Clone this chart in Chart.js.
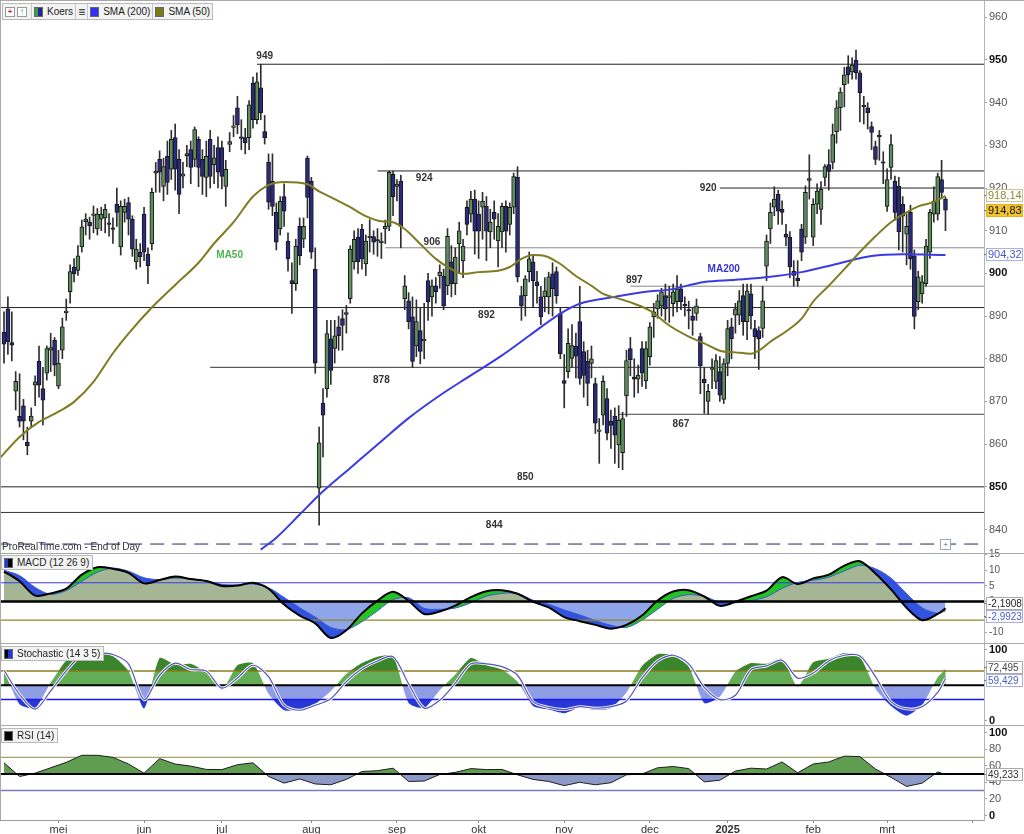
<!DOCTYPE html>
<html>
<head>
<meta charset="utf-8">
<script src="https://cdn.jsdelivr.net/npm/chart.js@4.4.1/dist/chart.umd.min.js"></script>
<style>
  body { margin: 0; background: #fff; }
  #wrap { position: relative; width: 1024px; height: 834px; overflow: hidden; background: #fff;
          font-family: "Liberation Sans", Arial, sans-serif; }
  .pane { position: absolute; left: 0; width: 1024px; }
  .sep { position: absolute; left: 0; width: 1024px; height: 1px; background: #a8a8a8; }
  .box { position: absolute; display: flex; align-items: center; height: 13px; border: 1px solid #b9b9b9;
         background: #f3f3f3; font-size: 10px; color: #222; white-space: nowrap; }
  .cell { display: flex; align-items: center; height: 100%; padding: 0 2px; border-right: 1px solid #c6c6c6; }
  .cell:last-child { border-right: none; }
  .sw { display: inline-block; width: 7px; height: 8px; margin-right: 4px; border: 1px solid #666; }
  .btn { display: inline-block; width: 8px; height: 8px; margin-right: 2px; border: 1px solid #999; background: #fff;
         font-size: 8px; line-height: 8px; text-align: center; font-weight: bold; }
  #prt { position: absolute; left: 2px; top: 541px; font-size: 10px; color: #333; }
  #icon { position: absolute; left: 940px; top: 539px; width: 9px; height: 9px; border: 1px solid #9aa; font-size: 8px;
          line-height: 9px; text-align: center; color: #667; background: #fff; }
</style>
</head>
<body>
<div id="wrap">
  <div class="pane" style="top:0;height:553px"><canvas id="main"></canvas></div>
  <div class="pane" style="top:548px;height:96px"><canvas id="macd"></canvas></div>
  <div class="pane" style="top:644px;height:81px"><canvas id="stoch"></canvas></div>
  <div class="pane" style="top:725px;height:109px"><canvas id="rsi"></canvas></div>

  <div class="sep" style="top:0"></div>
  <div class="sep" style="top:553px"></div>
  <div class="sep" style="top:643px"></div>
  <div class="sep" style="top:725px"></div>
  <div style="position:absolute;left:0;top:0;width:1px;height:820px;background:#a8a8a8"></div>

  <div class="box" style="left:2px;top:3px;height:15px">
    <span class="cell"><span class="btn" style="color:#d22">+</span><span class="btn" style="color:#2a2">&#8593;</span></span>
    <span class="cell"><span class="sw" style="background:linear-gradient(90deg,#3f9f3f 50%,#24249c 50%)"></span>Koers</span>
    <span class="cell" style="font-size:12px">&#8801;</span>
    <span class="cell"><span class="sw" style="background:#3030f0"></span>SMA (200)</span>
    <span class="cell"><span class="sw" style="background:#7a7a12"></span>SMA (50)</span>
  </div>
  <div id="prt">ProRealTime.com - End of Day</div>
  <div id="icon">+</div>
  <div class="box" style="left:1px;top:555px;padding-left:2px;padding-right:3px"><span class="sw" style="background:linear-gradient(90deg,#2236e0 50%,#000 50%)"></span>MACD (12 26 9)</div>
  <div class="box" style="left:1px;top:646px;padding-left:2px;padding-right:3px"><span class="sw" style="background:linear-gradient(90deg,#000 40%,#2236e0 40%)"></span>Stochastic (14 3 5)</div>
  <div class="box" style="left:1px;top:728px;padding-left:2px;padding-right:3px"><span class="sw" style="background:#000"></span>RSI (14)</div>
</div>

<script>
// daily candles, one per trading day (index 0 = first bar on the left)
const opens = [
  886.2,891.7,883.8,872.4,866.5,869,860.4,865.4,873.8,879.4,
  873,876.6,882,884.3,873.6,882,890.8,895.7,901.5,900.7,
  906.2,912.1,912,913.6,910.4,912.7,913,911.8,910.6,916.2,
  906.2,914.3,916.6,912.7,902.7,905,913.9,904.5,906.9,923.5,
  926.7,920.4,927.4,924.4,931.8,926.7,922.8,927.6,929,926.7,
  931.4,926.7,922.5,931.4,925.5,929.5,929.5,920.4,930.2,934.2,
  938.8,932,931.8,931.8,944.6,936,943.5,933.2,926,921.6,
  914.3,910.4,918,907.6,898.3,897.6,911,908,927,921.6,
  901,849.7,869.6,873,884.7,882.4,887.5,889.4,890.4,894.1,
  902.7,908.5,910.4,902.2,908.4,908.6,907.8,907.2,910.4,911,
  923.2,920.4,921.6,894.1,893.6,889.8,883,886.6,884.2,898.3,
  894.5,897.1,899.4,899.4,897.1,902.7,897.6,906.9,902.9,915.5,
  913.9,917.4,913.9,915.5,915.7,909.7,914.3,907.6,909.7,915.7,
  911.5,915.5,922.5,894.8,894.8,900.4,902.7,898,894.5,894.5,
  894.5,899.9,900.4,890.6,874.9,877,880.1,882.9,888.7,881.7,
  879.4,878.9,874.2,863,866.8,870.7,865.4,866.6,859.8,858,
  871.3,882.4,875.7,875.2,882.4,874.8,880.5,889.8,891.7,892.4,
  894.8,894.4,892.9,893.4,896.4,892.6,891.5,890,890.6,885.2,
  875.2,870,877.5,874.7,877,870.5,878.9,887.5,890.2,890.2,
  894.8,888.7,895.2,887.1,886.6,887.1,901.7,910.4,915.5,918.5,
  915,909.2,908.5,900.5,898.9,910.4,908.5,921.8,908.5,916.2,
  915,922.5,925.5,926,933.2,938.8,944.2,948.4,947.2,950,
  947,939.2,938.8,934.4,929.7,932.2,926,915.7,924.8,921.6,
  920.4,916.2,909.2,914.3,904.1,893.4,895.2,897.6,905,913.9,
  913.9,922,917.4
];
const highs = [
  891,894.5,891,877,876.5,870.5,864,868.5,876,883,
  878,883,886,885,882,889.5,894,902,903.5,906.5,
  912.5,914,913.2,915.8,915.2,915.5,916.2,914,913,920,
  917,917.4,917.8,913.5,908,907,915.5,906,920,926,
  928.7,927,931,933.5,935,929,926,930,931,934.3,
  932,929,931,933.5,930,932,931,926.5,933,937,
  941.5,936,934,940.5,946,947,949,937,928,928,
  916.5,918,921,909.5,902.5,908,913,913,927.5,922.5,
  906,864,873,889,889,889,890,891.5,892.5,906.5,
  910,910.5,911.5,909,912.6,910,910.5,909.5,912.5,924,
  924,922,923,899.5,895.5,894.5,893.8,892,893,900,
  898.5,899,902,901,910.5,906.5,906,912,908,917,
  919.2,919.5,917,919,918,915,917,914,916.5,917,
  916.5,923.5,925,897,899.5,905,904,900.5,897,899,
  900.3,902.5,901.5,892,881,887,888,886,897,884,
  882,883,875.5,866,876,873,868,868.5,869,867.5,
  882,885,880,878.5,884,884,888.5,893,895,896.5,
  897.5,897,897.5,899.5,897.5,894.5,893.5,892,894,886,
  878,874,880,881,880.5,880,889,889.5,893,896,
  897.5,897.5,897.5,889,887.5,897,909,916.5,920.3,919.5,
  917,911.5,909.8,903,903,911.5,920.5,927.8,917.5,921,
  921.5,925.5,929,935,940.5,943.5,948.3,951,950.5,952.3,
  947.5,941.5,940,935.5,931,933.5,928.5,924.5,932.5,922.8,
  922.5,918,914,916,905.5,900.5,899.5,908,915,920.3,
  923.5,926.5,917.8
];
const lows = [
  879,881,879.5,868,864,861,857.5,864,869,871,
  864.5,875,877,876,873,880,889,893,898,899.5,
  905,909,908,909.5,909,910,909.5,908.7,907,911,
  904.3,912,909,904,901,901.5,903,897.6,905.5,919,
  919,917,918.5,922,919.5,914,920,925,921,925,
  920.3,918.5,918,920,921,920,919.8,915.7,928.5,932,
  932.7,929,928,929,934,935,936,930.3,915,913.5,
  905.5,909,911,900.5,890.6,896,902,906,913,903.5,
  876.6,841,857,871,874,879,882,882,886,893,
  901,900,901,899.5,905,904.5,904,903.5,907,910,
  913.5,917,906,891.5,887,878,880.5,878.8,880,889,
  890,893,896.5,891.5,895,894.5,895,900,899,909,
  912,904.5,903.5,908,903,906,908,901.5,906,905,
  909,914,898,889,890,898,892,893,888,891,
  890.5,890,893,880,868.5,875.5,878,875.5,874,871,
  869,875.5,862.5,855.5,864.5,861,859,855.5,854.5,854,
  866.5,876,871,872,873.5,873,878.5,885,889.5,890,
  889,888.5,890,891,891.5,890,887,885.5,889,871.8,
  867.2,867,873,873,870,869.5,876,880,886,888,
  885.5,884.5,887,880,877.5,885,898.3,907,913.5,911.5,
  911.5,906.5,899,897,897,903,907,917.4,906.5,914,
  911.5,920.5,919.5,924.5,930.5,933.5,939,944.5,945.5,945.5,
  935.5,935,933.8,929,925.5,926.5,921,914.5,922,912.5,
  905.5,905,902,901,887,891.5,893,897,903.5,912,
  912.5,917.5,910
];
const closes = [
  883.4,884,883.2,874.7,865.4,865.4,859.6,866.6,874.6,873.8,
  870.3,882.4,882.6,878.5,879,887.5,891.2,900.4,899.9,904.1,
  910.9,912.7,911.2,913.9,913.9,913.9,915,911.5,910.3,914.3,
  915.7,915.7,912.7,905.7,905.7,903.9,905,901.8,919,924,
  923.7,925,921.3,931.4,924.4,918.5,923.3,928.1,924.8,933.7,
  924.8,922.7,927.4,922.7,927.1,923.7,922.7,924.4,930.9,934.6,
  934.8,931.6,930.6,939.5,936,944.9,937.6,931.8,916.7,915.7,
  907.3,916.9,914.6,903.4,897.6,906.4,904.1,911,917.8,905,
  879,860.3,866.8,885.9,877.3,885.4,885.4,887.8,890.8,905.7,
  908,902.7,903.4,907.6,908.6,907.3,907.6,907.4,911,923.7,
  918,920.9,911,897.1,888.7,879.4,888.7,881.7,884.4,893.3,
  897.1,895.7,900.3,892.4,908.7,897.6,903.8,910,906.4,911.5,
  917.4,909.9,909.9,916.9,909.9,912,912.7,911,915.7,909.9,
  915.5,922.7,899.2,892.4,898.7,903.4,898.3,897.1,889.8,895.9,
  899.2,896.4,894.8,881.2,874.2,883.6,883.1,880.6,875.4,876.1,
  874.2,880,864.9,863.2,874.7,862.6,864.4,862.1,865.6,866,
  879.6,879.8,875.2,876.2,876.6,882.4,887.5,891,893.6,895.7,
  891.7,894.6,895.7,896.4,893.4,892.4,891.2,889,892.4,878.4,
  874.4,872.4,877.9,879.6,871.5,878.9,887.1,884.7,891.7,893.6,
  888.7,895.9,890.1,885.2,884.7,893.6,907.6,914.3,917.4,914.6,
  914.3,908.5,901.5,899.5,898.3,905,919,922.2,916.2,919.3,
  919.7,925,923.9,932.5,938.8,942.5,946.5,946.5,948.8,947,
  942.3,939,937.6,933,926.7,932,925.8,922,930.2,914.3,
  909.7,913.4,911,903.4,889.9,899.2,898,906.4,914.3,916.9,
  922.7,919,914.83
];

// moving averages (bar index, value)
const sma50Idx = [-1,4,9,14,18,23,28,32,38,44,50,54,59,64,68,72,78,81,85,89,93,97,100,103,107,111,115,118,122,127,
  130,133,136,139,143,147,151,154,158,162,166,171,176,180,184,188,192,194,197,201,205,208,212,216,220,224,228,232,235,239,242];
const sma50Vals = [856.8,861.7,865.2,867.6,869.9,874.6,881.3,885.9,892,897.3,902.5,907,912,918,920.7,921.4,920.9,919.2,917.4,915.5,
  913.4,912.2,912,910.4,906.9,903.4,901,899.9,900.3,900.6,901.5,903.4,904.3,904.1,902.2,899.4,897.1,895.2,894.1,892.9,
  891.3,887.8,885.2,883.6,881.9,881.5,881.2,881.9,884,886.4,889.4,893.4,897.1,901,905,908.7,912,914.3,915.7,916.7,918.14];
const sma200Idx = [66,70,76,81,89,97,104,112,120,128,135,143,148,157,165,171,180,188,197,205,214,223,231,242];
const sma200Vals = [835.3,838.1,843.5,848.1,854.4,860.7,866.1,871.4,876.1,880.8,885.4,890.6,892.9,894.5,895.7,896.2,
  898,898.5,899.2,900.3,902.2,904.1,904.5,904.32];

// support / resistance levels and the bar where each line starts
const levelValues = [949, 924, 920, 906, 897, 892, 878, 867, 850, 844];
const levelStart = [65, 96, 184, 98, 161, -2, 53, 158, -2, -2];
const levelLabelAt = [67, 108, 181, 110, 162, 124, 97, 174, 134, 126];
const sessionLine = 836.6;

// indicator panels, read every 4th bar
const gridIdx = [0,4,8,12,16,20,24,28,32,36,40,44,48,52,56,60,64,68,72,76,80,84,88,92,96,100,104,108,112,116,
  120,124,128,132,136,140,144,148,152,156,160,164,168,172,176,180,184,188,192,196,200,204,208,212,216,220,224,228,232,236,240,242];
const macdVals = [9.6,6.5,1.9,2.6,4.1,8.6,11.0,10.5,9.2,5.8,6.9,8.0,7.2,6.6,5.0,5.1,6.0,4.1,-1.0,-4.5,
  -7.0,-11.7,-9.2,-3.8,0.3,3.1,0.2,-4.0,-3.2,-1.3,1.4,3.3,3.6,2.5,-0.1,-1.9,-5.0,-6.3,-7.5,-8.7,
  -7.5,-4.5,0.3,3.2,3.6,1.6,-1.4,-0.1,1.7,3.5,7.8,5.6,7.4,8.6,11.5,12.9,9.0,3.9,-2.0,-6.0,-4.0,-2.1908];
const signalVals = [10.0,8.3,4.5,2.3,3.5,6.5,9.4,10.7,9.7,7.6,7.0,7.5,7.2,6.6,5.5,5.3,5.6,4.4,1.3,-2.0,
  -5.0,-8.3,-9.0,-6.5,-3.0,0.6,1.2,-2.2,-2.5,-2.1,-0.4,1.7,2.6,2.6,0.4,-0.9,-2.7,-4.3,-6.1,-7.6,
  -8.3,-6.0,-2.5,1.0,2.2,1.6,-0.2,-0.4,0.3,1.5,4.2,6.1,6.8,7.8,9.8,11.6,10.5,7.5,2.5,-2.0,-3.8,-2.9923];
const stochK = [70.5,23.5,18,53.5,84.5,96,97,91,70,17.5,88,79,80,68,43.4,78,81,38,15,16.5,
  24,42,66,81,90,91,25,18,43,65,88,78,72,55,21,16,11,19,15.4,18,
  40,77,93.5,91.5,76,25,34,69,81,80,87,48,82,87,95,90,45,21,7.5,22.4,61,72.495];
const stochD = [71,37,16.5,42,70,92.5,95,93,80,30,64,81,72,70,46,60,78,62,22,15,
  22,31,55,73,84,90,52,18,29,53,80,80,76,64,27,19,16,20,17.8,20,
  28,60,84,92,80,47,30,36,72,77,85,60,67,84,92,91,62,27,17,20,40,59.429];
const rsiVals = [63.5,47,51,57.5,64,72.5,72.5,70,62,51,68.5,62,59.5,55.5,55.3,61.2,63.5,47,39,44,
  38,37,43.5,53,54,57,41,41.5,49.4,52,56.5,55.3,55.5,49,43.5,41,36,40,37,39.5,
  49,50,57.5,59,56.5,40.5,42.5,53.5,57,56,64.5,51.5,62,64.5,71.5,71,56,46,35,39,52.5,49.233];

// date axis
const monthIdx = [14, 36, 56, 79, 101, 122, 144, 166, 186, 208, 227, 249];
const monthLabels = ['mei', 'jun', 'jul', 'aug', 'sep', 'okt', 'nov', 'dec', '2025', 'feb', 'mrt', ''];

// ---------------------------------------------------------------
const FONT = '"Liberation Sans", Arial, sans-serif';
Chart.defaults.font.family = FONT;
Chart.defaults.animation = false;
Chart.defaults.events = [];
Chart.defaults.plugins.legend.display = false;
Chart.defaults.plugins.tooltip.enabled = false;

const X_MIN = -1.03, X_MAX = 251.9, X_END = 253;
const last = closes.length - 1;
const fmt = (v, d) => v.toFixed(d).replace('.', ',');
const pts = (xs, ys) => xs.map((x, i) => ({ x, y: ys[i] }));
const tickVal = c => (c && c.tick ? c.tick.value : 1);
// drop the label overhang padding so the plot areas line up exactly with the panes
const noPad = s => { s.paddingTop = 0; s.paddingBottom = 0; s.paddingLeft = 0; s.paddingRight = 0; };
const hline = (v, from, color, width, order, dash) => ({
  type: 'line', data: [{ x: from, y: v }, { x: X_END, y: v }], borderColor: color, borderWidth: width,
  borderDash: dash || [], pointRadius: 0, fill: false, order
});
const hiddenX = { type: 'linear', min: X_MIN, max: X_MAX, offset: false, display: false, afterFit: noPad };
const rightAxis = (min, max, ticks, extra) => Object.assign({
  position: 'right', min, max,
  afterFit: s => { s.width = 40; noPad(s); },
  border: { color: '#b4b4b4' },
  grid: { drawOnChartArea: false, tickLength: 3, color: '#a0a0a0' },
  ticks: Object.assign({ padding: 2, includeBounds: false, color: '#555', font: { size: 11 } }, ticks)
}, extra || {});

// value tags on the right axis
const badgePlugin = {
  id: 'badges',
  afterDraw(chart, args, opts) {
    const items = opts && opts.items;
    if (!items || !items.length) return;
    const { ctx, chartArea } = chart;
    const y = chart.scales.y;
    const pos = items.map(it => y.getPixelForValue(it.value));
    for (let i = 1; i < pos.length; i++) {
      if (pos[i] - pos[i - 1] < 13) {
        const m = (pos[i] + pos[i - 1]) / 2;
        pos[i - 1] = m - 6.5;
        pos[i] = m + 6.5;
      }
    }
    ctx.save();
    ctx.font = (opts.size || 11) + 'px ' + FONT;
    ctx.textBaseline = 'middle';
    items.forEach((it, i) => {
      const left = chartArea.right + 2, top = Math.round(pos[i] - 6.5);
      ctx.fillStyle = it.bg;
      ctx.fillRect(left, top, 37, 13);
      ctx.strokeStyle = it.border;
      ctx.lineWidth = 1;
      ctx.strokeRect(left + 0.5, top + 0.5, 36, 12);
      ctx.beginPath();
      ctx.strokeStyle = '#777';
      ctx.moveTo(chartArea.right, top + 6.5);
      ctx.lineTo(left, top + 6.5);
      ctx.stroke();
      ctx.fillStyle = it.color;
      ctx.fillText(it.text, left + 2, top + 7);
    });
    ctx.restore();
  }
};
Chart.register(badgePlugin);

// level numbers and MA captions on the price pane
const levelLabelDy = [-8, 7, 0, -6, -6, 8, 13, 10, -10, 13];
const maLabels = [
  { text: 'MA50', at: 58, value: 904.2, color: '#4db34d' },
  { text: 'MA200', at: 185, value: 901, color: '#3434d0' }
];
const levelLabelPlugin = {
  id: 'levelLabels',
  afterDatasetsDraw(chart) {
    const { ctx, scales: { x, y } } = chart;
    ctx.save();
    ctx.textAlign = 'center';
    ctx.textBaseline = 'middle';
    ctx.font = 'bold 10px ' + FONT;
    ctx.fillStyle = '#333';
    levelValues.forEach((v, i) => {
      ctx.fillText(String(v), x.getPixelForValue(levelLabelAt[i]), y.getPixelForValue(v) + levelLabelDy[i]);
    });
    maLabels.forEach(m => {
      ctx.fillStyle = m.color;
      ctx.fillText(m.text, x.getPixelForValue(m.at), y.getPixelForValue(m.value));
    });
    ctx.restore();
  }
};

// stochastic: area between %K (dataset 0) and the 50 line, coloured per band
const stochBands = [
  { lo: 70, hi: 1000, color: '#3b862d' },
  { lo: 50, hi: 70, color: '#63ad56' },
  { lo: 30, hi: 50, color: '#8e9de4' },
  { lo: -1000, hi: 30, color: '#2838d6' }
];
const stochFillPlugin = {
  id: 'stochFill',
  beforeDatasetsDraw(chart) {
    const { ctx, chartArea: a, scales: { y } } = chart;
    const line = chart.getDatasetMeta(0).dataset;
    const p = line.points;
    if (!p || !p.length) return;
    line.updateControlPoints(a, 'x');
    const base = y.getPixelForValue(50);
    stochBands.forEach(b => {
      const top = Math.max(a.top, y.getPixelForValue(b.hi));
      const bottom = Math.min(a.bottom, y.getPixelForValue(b.lo));
      ctx.save();
      ctx.beginPath();
      ctx.rect(a.left, top, a.right - a.left, bottom - top);
      ctx.clip();
      ctx.beginPath();
      line.path(ctx);
      ctx.lineTo(p[p.length - 1].x, base);
      ctx.lineTo(p[0].x, base);
      ctx.closePath();
      ctx.fillStyle = b.color;
      ctx.fill();
      ctx.restore();
    });
  }
};

// ---------------- price pane ----------------
const UP = '#5d8c5d', DOWN = '#2a2a7e';
const bodies = closes.map((c, i) => ({ x: i, y: [opens[i], c] }));
const wicks = closes.map((c, i) => ({ x: i, y: [lows[i], highs[i]] }));
const bodyColors = closes.map((c, i) => (c >= opens[i] ? UP : DOWN));
const levelColors = ['#222', '#222', '#222', '#8a8a8a', '#8a8a8a', '#222', '#333', '#444', '#222', '#333'];

new Chart(document.getElementById('main'), {
  type: 'bar',
  data: {
    datasets: [
      { type: 'line', data: pts(sma50Idx, sma50Vals), borderColor: '#7e7b20', borderWidth: 2, pointRadius: 0,
        cubicInterpolationMode: 'monotone', fill: false, order: 0 },
      { type: 'line', data: pts(sma200Idx, sma200Vals), borderColor: '#3b3be6', borderWidth: 2, pointRadius: 0,
        cubicInterpolationMode: 'monotone', fill: false, order: 0 },
      { data: bodies, backgroundColor: bodyColors, borderColor: '#161616', borderWidth: 1, barThickness: 4,
        minBarLength: 1.5, grouped: false, borderSkipped: false, order: 1 },
      { data: wicks, backgroundColor: '#2e2e2e', barThickness: 1, grouped: false, order: 2 },
      ...levelValues.map((v, i) => hline(v, levelStart[i], levelColors[i], 1, 3)),
      hline(sessionLine, -2, '#23237a', 1, 3, [14, 8])
    ]
  },
  options: {
    responsive: true, maintainAspectRatio: false,
    layout: { padding: 0, autoPadding: false },
    scales: {
      x: hiddenX,
      y: rightAxis(834.5, 964.05, {
        stepSize: 10,
        color: c => (tickVal(c) % 50 === 0 ? '#111' : '#555'),
        font: c => ({ size: 11, weight: tickVal(c) % 50 === 0 ? 'bold' : 'normal' })
      })
    },
    plugins: {
      badges: {
        size: 11,
        items: [
          { value: sma50Vals[sma50Vals.length - 1], text: fmt(sma50Vals[sma50Vals.length - 1], 2), color: '#8a8a30', bg: '#fff', border: '#c9c79a' },
          { value: closes[last], text: fmt(closes[last], 2), color: '#111', bg: '#f2c32e', border: '#e0b020' },
          { value: sma200Vals[sma200Vals.length - 1], text: fmt(sma200Vals[sma200Vals.length - 1], 2), color: '#4b58d0', bg: '#fff', border: '#a9b0e4' }
        ]
      }
    }
  },
  plugins: [levelLabelPlugin]
});

// ---------------- MACD pane ----------------
new Chart(document.getElementById('macd'), {
  type: 'line',
  data: {
    datasets: [
      { data: pts(gridIdx, macdVals), borderWidth: 0, pointRadius: 0, tension: 0.3,
        fill: { target: { value: 0 }, above: '#a4b693', below: '#8ea5ea' }, order: 10 },
      { data: pts(gridIdx, signalVals), borderColor: '#3a58d8', borderWidth: 1, pointRadius: 0, tension: 0.3,
        fill: { target: 0, above: '#3253e0', below: '#22c322' }, order: 9 },
      { data: pts(gridIdx, macdVals), borderColor: '#000', borderWidth: 2, pointRadius: 0, tension: 0.3, fill: false, order: 2 },
      hline(6, -2, '#3a3af0', 1.2, 5),
      hline(0, -2, '#000', 2.5, 1),
      hline(-6, -2, '#8c8a28', 1.2, 5)
    ]
  },
  options: {
    responsive: true, maintainAspectRatio: false,
    layout: { padding: { top: 5 }, autoPadding: false },
    scales: { x: hiddenX, y: rightAxis(-13.62, 15.54, { stepSize: 5, font: { size: 10 } }) },
    plugins: {
      badges: {
        size: 10,
        items: [
          { value: macdVals[macdVals.length - 1], text: fmt(macdVals[macdVals.length - 1], 4), color: '#222', bg: '#fff', border: '#aaa' },
          { value: signalVals[signalVals.length - 1], text: fmt(signalVals[signalVals.length - 1], 4), color: '#4a5ad0', bg: '#fff', border: '#a9b0e4' }
        ]
      }
    }
  }
});

// ---------------- Stochastic pane ----------------
new Chart(document.getElementById('stoch'), {
  type: 'line',
  data: {
    datasets: [
      { data: pts(gridIdx, stochK), borderWidth: 0, borderColor: 'rgba(0,0,0,0)', pointRadius: 0, tension: 0.2, fill: false, order: 10 },
      hline(70, -2, '#8a7a20', 1.5, 5),
      hline(50, -2, '#000', 2, 5),
      hline(30, -2, '#1a1aee', 1.5, 5),
      { data: pts(gridIdx, stochD), borderColor: '#ffffff', borderWidth: 3, pointRadius: 0, tension: 0.3, fill: false, order: 3 },
      { data: pts(gridIdx, stochD), borderColor: '#5454b8', borderWidth: 1.2, pointRadius: 0, tension: 0.3, fill: false, order: 2 }
    ]
  },
  options: {
    responsive: true, maintainAspectRatio: false,
    layout: { padding: 0, autoPadding: false },
    scales: {
      x: hiddenX,
      y: rightAxis(-5.6, 107.7, { color: '#111', font: { size: 11, weight: 'bold' } }, {
        afterBuildTicks: s => { s.ticks = [{ value: 0 }, { value: 100 }]; }
      })
    },
    plugins: {
      badges: {
        size: 10,
        items: [
          { value: stochK[stochK.length - 1], text: fmt(stochK[stochK.length - 1], 3), color: '#444', bg: '#fff', border: '#aaa' },
          { value: stochD[stochD.length - 1], text: fmt(stochD[stochD.length - 1], 3), color: '#5060c8', bg: '#fff', border: '#a9b0e4' }
        ]
      }
    }
  },
  plugins: [stochFillPlugin]
});

// ---------------- RSI pane + date axis ----------------
new Chart(document.getElementById('rsi'), {
  type: 'line',
  data: {
    datasets: [
      { data: pts(gridIdx, rsiVals), borderColor: '#1e1e1e', borderWidth: 1, pointRadius: 0, tension: 0,
        fill: { target: { value: 50 }, above: '#5f9e50', below: '#8d99c6' }, order: 5 },
      hline(70, -2, '#a3a36c', 1.2, 6),
      hline(50, -2, '#000', 2, 1),
      hline(30, -2, '#7c7cb6', 1.5, 6)
    ]
  },
  options: {
    responsive: true, maintainAspectRatio: false,
    layout: { padding: 0, autoPadding: false },
    scales: {
      x: {
        type: 'linear', min: X_MIN, max: X_MAX, offset: false, position: 'bottom',
        afterBuildTicks: s => { s.ticks = monthIdx.map(v => ({ value: v })); },
        afterFit: s => { s.height = 14; noPad(s); },
        border: { color: '#9a9a9a' },
        grid: { drawOnChartArea: false, tickLength: 3, color: '#888' },
        ticks: {
          autoSkip: false, maxRotation: 0, padding: 0, color: '#333',
          callback: (v, i) => monthLabels[i],
          font: c => ({ size: 11, weight: c && monthLabels[c.index] === '2025' ? 'bold' : 'normal' })
        }
      },
      y: rightAxis(-5.4, 109, {
        stepSize: 20,
        color: c => (tickVal(c) % 100 === 0 ? '#111' : '#555'),
        font: c => ({ size: 11, weight: tickVal(c) % 100 === 0 ? 'bold' : 'normal' })
      })
    },
    plugins: {
      badges: {
        size: 10,
        items: [{ value: rsiVals[rsiVals.length - 1], text: fmt(rsiVals[rsiVals.length - 1], 3), color: '#333', bg: '#fff', border: '#aaa' }]
      }
    }
  }
});
</script>
</body>
</html>
